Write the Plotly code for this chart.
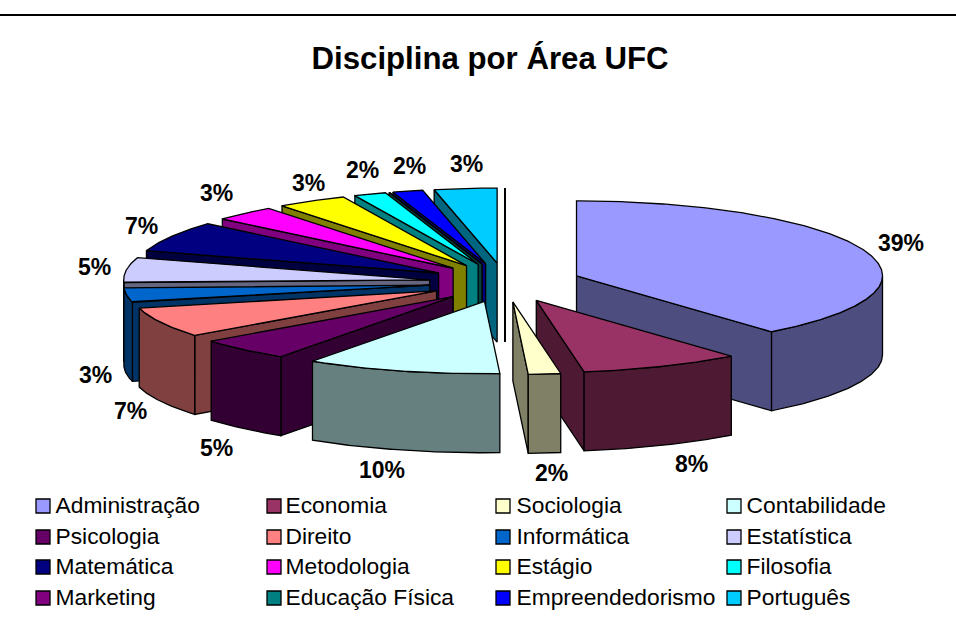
import math
import plotly.graph_objects as go

# ---- data ----
categories = ["Administração", "Economia", "Sociologia", "Contabilidade",
              "Psicologia", "Direito", "Informática", "Estatística",
              "Matemática", "Metodologia", "Estágio", "Filosofia",
              "Marketing", "Educação Física", "Empreendedorismo", "Português"]
values = [39.0, 8.5, 1.7, 10.3, 5.0, 6.7, 3.2, 5.4, 6.6, 3.3, 3.7, 1.7, 0.0, 0.0, 1.6, 3.3]
value_labels = ["39%", "8%", "2%", "10%", "5%", "7%", "3%", "5%", "7%", "3%", "3%", "2%", "", "", "2%", "3%"]
top_colors = ["#9999FF", "#993366", "#FFFFCC", "#CCFFFF", "#660066", "#FF8080", "#0066CC", "#CCCCFF",
              "#000080", "#FF00FF", "#FFFF00", "#00FFFF", "#800080", "#008080", "#0000FF", "#00CCFF"]
side_colors = ["#4D4D80", "#4D1933", "#808066", "#668080", "#330033", "#804040", "#003366", "#666680",
               "#000040", "#800080", "#808000", "#008080", "#400040", "#004040", "#000080", "#006680"]
title_text = "Disciplina por Área UFC"

# ---- layout constants (pixels, axes are mapped 1:1 to the page) ----
W, H = 956, 630
CX, CY = 505, 282.5
RX, RY_BACK, RY_FRONT = 306, 75, 72.5
PULL_X, PULL_Y = 76, 19.5
DEPTH = 79
LABEL_XY = [(901, 243), (691, 464), (551, 473), (382, 470), (216, 448), (130, 411), (95, 375),
            (94, 267), (141, 226), (216, 193), (308, 183), (362, 170), None, None, (409, 166), (466, 164)]
LEGEND_X = [43, 274, 503, 734]
LEGEND_TEXT_X = [55.5, 285.5, 516.5, 746.5]
LEGEND_Y = [506, 537, 567, 598]
LEGEND_TEXT_Y = [507, 538, 568, 599]


def rim(apex, deg):
    a = math.radians(deg)
    c = math.cos(a)
    return apex[0] + RX * math.sin(a), apex[1] - (RY_BACK if c > 0 else RY_FRONT) * c


def arc(apex, a0, a1):
    n = max(2, int(abs(a1 - a0)) * 2 + 2)
    return [rim(apex, a0 + (a1 - a0) * i / (n - 1)) for i in range(n)]


def poly(fig, pts, color):
    xs = [p[0] for p in pts] + [pts[0][0]]
    ys = [p[1] for p in pts] + [pts[0][1]]
    fig.add_trace(go.Scatter(x=xs, y=ys, mode="lines", fill="toself", fillcolor=color,
                             line=dict(color="black", width=1.3), hoverinfo="skip", showlegend=False))


slices = []
cum = 0.0
total = sum(values)
for i, v in enumerate(values):
    a0 = cum / total * 360
    cum += v
    a1 = cum / total * 360
    mid = math.radians((a0 + a1) / 2)
    apex = (CX + PULL_X * math.sin(mid), CY - PULL_Y * math.cos(mid))
    slices.append(dict(i=i, a0=a0, a1=a1, mid=mid, apex=apex))

fig = go.Figure()

# Zero-width slice seen edge on at twelve o'clock
top_pt = rim((CX, CY - PULL_Y), 0)
fig.add_trace(go.Scatter(x=[top_pt[0], top_pt[0]], y=[top_pt[1], CY - PULL_Y + DEPTH], mode="lines",
                         line=dict(color="black", width=2), hoverinfo="skip", showlegend=False))

# Painter's order: farthest slices first
for s in sorted(slices, key=lambda s: -math.cos(s["mid"])):
    i, a0, a1, apex = s["i"], s["a0"], s["a1"], s["apex"]
    down = lambda p: (p[0], p[1] + DEPTH)
    if a0 > 180:
        r = rim(apex, a0)
        poly(fig, [apex, r, down(r), down(apex)], side_colors[i])
    if a1 < 180:
        r = rim(apex, a1)
        poly(fig, [apex, r, down(r), down(apex)], side_colors[i])
    lo, hi = max(a0, 90), min(a1, 270)
    if hi > lo:
        pts = arc(apex, lo, hi)
        poly(fig, pts + [down(p) for p in reversed(pts)], side_colors[i])
    poly(fig, [apex] + arc(apex, a0, a1), top_colors[i])

# Value labels
for txt, xy in zip(value_labels, LABEL_XY):
    if xy:
        fig.add_annotation(x=xy[0], y=xy[1], text=txt, showarrow=False,
                           font=dict(family="Liberation Sans", size=23, color="black", weight="bold"))

# Legend, four columns by four rows
swatch_x = [LEGEND_X[k % 4] for k in range(len(categories))]
text_x = [LEGEND_TEXT_X[k % 4] for k in range(len(categories))]
swatch_y = [LEGEND_Y[k // 4] for k in range(len(categories))]
text_y = [LEGEND_TEXT_Y[k // 4] for k in range(len(categories))]
fig.add_trace(go.Scatter(x=swatch_x, y=swatch_y, mode="markers",
                         marker=dict(symbol="square", size=14, color=top_colors,
                                     line=dict(color="black", width=1.3)),
                         hoverinfo="skip", showlegend=False))
fig.add_trace(go.Scatter(x=text_x, y=text_y, mode="text", text=categories,
                         textposition="middle right",
                         textfont=dict(family="Liberation Sans", size=22.8, color="black"),
                         hoverinfo="skip", showlegend=False))

fig.add_shape(type="line", x0=0, x1=W, y0=15, y1=15, line=dict(color="black", width=2))

fig.update_layout(
    width=W, height=H, margin=dict(l=0, r=0, t=0, b=0),
    paper_bgcolor="white", plot_bgcolor="white", showlegend=False,
    title=dict(text=title_text, x=490 / W, xanchor="center", y=1 - 58 / H, yanchor="middle",
               font=dict(family="Liberation Sans", size=31.2, color="black", weight="bold")),
    xaxis=dict(range=[0, W], visible=False, fixedrange=True),
    yaxis=dict(range=[H, 0], visible=False, fixedrange=True),
)
fig.write_html("out.html", post_script="document.body.style.margin='0';", config={"displayModeBar": False})
